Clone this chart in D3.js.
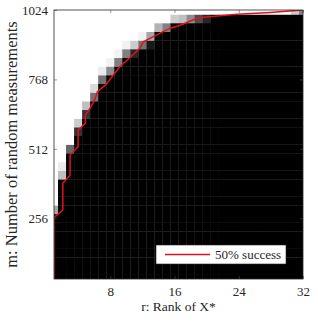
<!DOCTYPE html>
<meta charset="utf-8">
<style>
  body { margin: 0; background: #fff; }
  svg text { font-family: 'Liberation Serif', 'Times New Roman', serif; fill: #262626; }
  .frame { fill: none; stroke: #262626; stroke-width: 0.8px; }
  .contour { fill: none; stroke: #e3101c; stroke-width: 1.5px; }
</style>
<body>
<div id="chart"></div>
<script src="https://d3js.org/d3.v7.min.js"></script>
<script>
// rank r (columns) and number of measurements m (rows)
var ranks = d3.range(1, 33);
var measurements = d3.range(32, 1025, 32);

// highest m that is fully successful (black), one per rank
var blackTop = [256, 384, 480, 544, 608, 672, 736, 768, 800, 832,
                832, 864, 864, 928, 928, 960, 960, 960, 960, 960,
                992, 992, 992, 992, 992, 992, 992, 992, 992, 992,
                992, 992];

// partial success cells just above the boundary: [r, m, fraction]
var grayCells = [
  [1, 288, 0.35],
  [2, 416, 0.25], [2, 448, 0.08],
  [3, 512, 0.6],
  [4, 576, 0.8], [4, 608, 0.2],
  [5, 640, 0.8], [5, 672, 0.25],
  [6, 704, 0.55], [6, 736, 0.15],
  [7, 768, 0.55], [7, 800, 0.08],
  [8, 800, 0.45], [8, 832, 0.05],
  [9, 832, 0.5], [9, 864, 0.05],
  [10, 864, 0.5], [10, 896, 0.05],
  [11, 864, 0.85], [11, 896, 0.2],
  [12, 896, 0.55], [12, 928, 0.05],
  [13, 896, 0.9], [13, 928, 0.35],
  [14, 960, 0.3],
  [15, 960, 0.5],
  [16, 992, 0.2],
  [17, 992, 0.25],
  [18, 992, 0.45],
  [19, 992, 0.7],
  [20, 992, 0.85],
  [31, 1024, 0.2],
  [32, 1024, 0.5]
];

// 50% success contour
var lineR = [1, 1, 1.15, 2.1, 2.1, 3.0, 3.0, 4.0, 4.0, 4.9, 4.9, 5.5, 6.1, 6.4,
             7.4, 9.2, 11.7, 12.1, 15.4, 16.7, 18.3, 19.6, 23.8, 27.9, 32];
var lineM = [32, 260, 262, 286, 385, 415, 489, 520, 581, 606, 637, 662, 695, 723,
             747, 815, 883, 907, 956, 968, 987, 997, 1008, 1015, 1024];

var xTicks = [8, 16, 24, 32];
var yTicks = [256, 512, 768, 1024];

var width = 318;
var height = 326;
var margin = {top: 10, right: 15, bottom: 47, left: 54};

var x = d3.scaleLinear().domain([1, 32]).range([margin.left, width - margin.right]);
var y = d3.scaleLinear().domain([32, 1024]).range([height - margin.bottom, margin.top]);

var svg = d3.select('#chart').append('svg')
    .attr('width', width)
    .attr('height', height);

svg.append('clipPath').attr('id', 'plot-clip')
  .append('rect')
    .attr('x', x(1)).attr('y', y(1024))
    .attr('width', x(32) - x(1)).attr('height', y(32) - y(1024));

var grayLookup = {};
grayCells.forEach(function (d) { grayLookup[d[0] + '_' + d[1]] = d[2]; });

var cells = [];
ranks.forEach(function (r, i) {
  measurements.forEach(function (m) {
    var v = m <= blackTop[i] ? 1 : (grayLookup[r + '_' + m] || 0);
    cells.push({r: r, m: m, v: v});
  });
});

var shade = function (v) {
  var c = Math.round((1 - v) * 255);
  return d3.rgb(c, c, c);
};

svg.append('g')
    .attr('clip-path', 'url(#plot-clip)')
  .selectAll('rect')
    .data(cells)
    .enter().append('rect')
    .attr('x', function (d) { return x(d.r - 0.5); })
    .attr('y', function (d) { return y(d.m + 16); })
    .attr('width', function (d) { return x(d.r + 0.5) - x(d.r - 0.5) + 0.3; })
    .attr('height', function (d) { return y(d.m - 16) - y(d.m + 16) + 0.3; })
    .attr('fill', function (d) { return shade(d.v); });

// contour
svg.append('path')
    .datum(d3.zip(lineR, lineM))
    .attr('class', 'contour')
    .attr('clip-path', 'url(#plot-clip)')
    .attr('d', d3.line()
      .x(function (d) { return x(d[0]); })
      .y(function (d) { return y(d[1]); }));

// axes, ticks inside like matlab
var plotH = y(32) - y(1024);
var plotW = x(32) - x(1);
var styleLabels = function (g) {
  g.select('.domain').remove();
  g.selectAll('text').attr('font-size', 13).attr('fill', '#262626')
    .attr('font-family', "'Liberation Serif', serif");
};

svg.append('g')
    .attr('transform', 'translate(0,' + y(32) + ')')
    .call(d3.axisBottom(x).tickValues(xTicks).tickSize(-3).tickPadding(8))
    .call(styleLabels);

svg.append('g')
    .attr('transform', 'translate(0,' + y(1024) + ')')
    .call(d3.axisTop(x).tickValues(xTicks).tickSize(-3).tickFormat(''))
    .call(styleLabels);

svg.append('g')
    .attr('transform', 'translate(' + x(1) + ',0)')
    .call(d3.axisLeft(y).tickValues(yTicks).tickSize(-3).tickPadding(6).tickFormat(d3.format('d')))
    .call(styleLabels);

svg.append('g')
    .attr('transform', 'translate(' + x(32) + ',0)')
    .call(d3.axisRight(y).tickValues(yTicks).tickSize(-3).tickFormat(''))
    .call(styleLabels);

svg.selectAll('.tick line').attr('stroke', '#555').attr('stroke-width', 0.6);

svg.append('rect')
    .attr('class', 'frame')
    .attr('x', x(1)).attr('y', y(1024))
    .attr('width', plotW).attr('height', plotH);

// axis titles
svg.append('text')
    .attr('x', (x(1) + x(32)) / 2)
    .attr('y', 311)
    .attr('text-anchor', 'middle')
    .attr('font-size', 13.5)
    .text('r: Rank of X*');

svg.append('text')
    .attr('transform', 'translate(17,' + (y(32) + y(1024)) / 2 + ') rotate(-90)')
    .attr('text-anchor', 'middle')
    .attr('font-size', 16.5)
    .text('m: Number of random measurements');

// legend
var legend = svg.append('g').attr('transform', 'translate(156,245)');
legend.append('rect')
    .attr('width', 130).attr('height', 19)
    .attr('fill', '#fff').attr('stroke', '#262626').attr('stroke-width', 0.6);
legend.append('line')
    .attr('x1', 9).attr('x2', 54).attr('y1', 9.5).attr('y2', 9.5)
    .attr('stroke', '#e3101c').attr('stroke-width', 1.5);
legend.append('text')
    .attr('x', 59).attr('y', 14)
    .attr('font-size', 13)
    .text('50% success');
</script>
</body>
